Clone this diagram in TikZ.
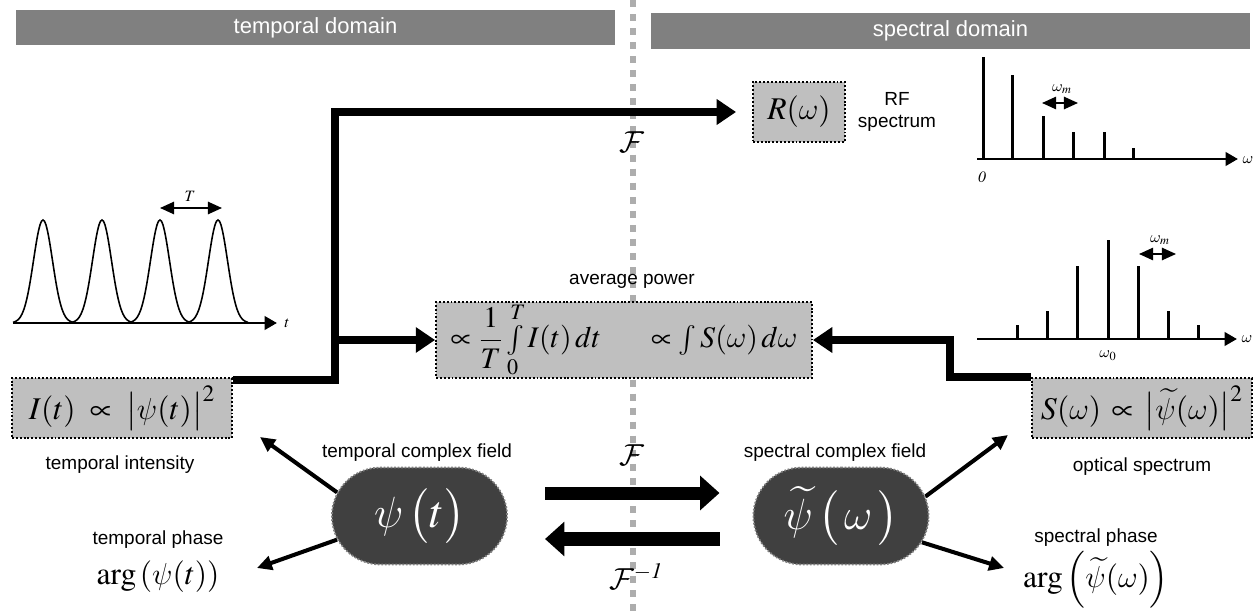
\documentclass[tikz,border=0pt]{standalone}
\usepackage{amsmath}
\usepackage{mathptmx}
\DeclareMathAlphabet{\mathcal}{OMS}{cmsy}{m}{n}
\DeclareSymbolFont{cmletters}{OML}{cmm}{m}{it}
\DeclareMathSymbol{\psi}{\mathord}{cmletters}{"20}
\DeclareMathSymbol{\omega}{\mathord}{cmletters}{"21}
\usepackage{fontspec}
\newfontfamily\arial{Liberation Sans}
\usepackage{tikz}
\usetikzlibrary{shapes, shapes.misc, arrows, arrows.meta}

\definecolor{hdrgray}{gray}{0.5}
\definecolor{boxgray}{gray}{0.75}
\definecolor{fieldgray}{gray}{0.25}
\definecolor{divgray}{gray}{0.68}

\newcommand\bigmath{\fontsize{18}{22}\selectfont}
\newcommand\avgmath{\fontsize{17}{20}\selectfont}
\newcommand\hugemath{\fontsize{26}{30}\selectfont}

\begin{document}
\begin{tikzpicture}[x=0.02cm, y=-0.02cm,
  hdr/.style={rectangle, fill=hdrgray, text=white, font=\arial\fontsize{12.5}{15}\selectfont},
  qbox/.style={rectangle, draw, fill=boxgray, line width=1.1pt, dash pattern=on 1.1pt off 1.1pt, inner sep=0pt, font=\bigmath},
  lbl/.style={font=\arial\fontsize{10.8}{13}\selectfont, align=center},
  cfield/.style={rounded rectangle, fill=fieldgray, draw=gray, line width=1pt, dash pattern=on 1pt off 1pt, text=white, minimum width=3.74cm, minimum height=1.94cm, font=\hugemath},
  flbl/.style={font=\fontsize{17}{20}\selectfont},
  plotlbl/.style={font=\fontsize{9}{11}\selectfont, inner sep=1pt},
  feed/.style={line width=4.5pt, -{Triangle[length=11pt, width=14pt]}},
  fourier/.style={line width=7.4pt, -{Triangle[length=11pt, width=19pt]}},
  ptr/.style={line width=2.3pt, -{Triangle[length=8.5pt, width=8pt]}},
  axisline/.style={line width=1.7pt, -{Triangle[length=7pt, width=7.5pt]}},
  peak/.style={line width=1.7pt},
  period/.style={line width=1pt, {Triangle[length=8pt, width=7pt]}-{Triangle[length=8pt, width=7pt]}}]
\useasboundingbox (0,0) rectangle (1257,611);

% domain divider
\draw[divgray, line width=3.6pt, dash pattern=on 4pt off 4pt] (633,0) -- (633,611);

\node[hdr, minimum width=12cm, minimum height=0.72cm] (tdom) at (315.5,27.5) {temporal domain};
\node[hdr, minimum width=12cm, minimum height=0.72cm] (sdom) at (950.5,31) {spectral domain};

% measured quantities
\node[qbox, minimum width=1.84cm, minimum height=1.2cm] (R) at (799,112) {$R(\omega)$};
\node[lbl] (Rlbl) at (897,112) {RF\\spectrum};
\node[qbox, minimum width=4.4cm, minimum height=1.2cm] (I) at (122,408) {$I(t)\;\propto\;\bigl|\psi(t)\bigr|^2$};
\node[lbl] (Ilbl) at (120,465) {temporal intensity};
\node[qbox, minimum width=4.4cm, minimum height=1.2cm] (S) at (1142,408) {$S(\omega)\,\propto\,\bigl|\widetilde{\psi}(\omega)\bigr|^2$};
\node[lbl] (Slbl) at (1142,467) {optical spectrum};
\node[qbox, minimum width=7.52cm, minimum height=1.52cm, font=\avgmath] (P) at (624,340) {$\propto\dfrac{1}{T}\int\limits_0^T I(t)\,dt\quad\;\;\propto\int S(\omega)\,d\omega$};
\node[lbl] (Plbl) at (632,281) {average power};

% complex fields
\node[cfield] (psiT) at (419.5,516) {$\psi\,\bigl(t\bigr)$};
\node[cfield] (psiW) at (841,516) {$\widetilde{\psi}\,\bigl(\,\omega\,\bigr)$};
\node[lbl] (psiTlbl) at (417,453) {temporal complex field};
\node[lbl] (psiWlbl) at (835,453) {spectral complex field};
\node[lbl] (phT) at (158,540) {temporal phase};
\node[font=\bigmath] (argT) at (158,577) {$\arg\left(\psi(t)\right)$};
\node[lbl] (phW) at (1096,538) {spectral phase};
\node[font=\bigmath] (argW) at (1096,580) {$\arg\left(\widetilde{\psi}(\omega)\right)$};

\node[flbl] (F1) at (632,142) {$\mathcal{F}$};
\node[flbl] (F2) at (632,455) {$\mathcal{F}$};
\node[flbl] (F3) at (636,577) {$\mathcal{F}^{\mathit{-1}}$};

% connectors
\coordinate (split) at (335,340);
\coordinate (knee) at (950,340);
\draw[feed, shorten >=0.32cm] ([yshift=-0.06cm]I.north east) -| (split) |- (R.west);
\draw[feed] (split) -- (P.west);
\draw[feed] (S.north west) -| (knee) -- (P.east);
\draw[fourier, shorten <=0.74cm, shorten >=0.66cm] ([yshift=0.46cm]psiT.east) -- ([yshift=0.46cm]psiW.west);
\draw[fourier, shorten <=0.66cm, shorten >=0.74cm] ([yshift=-0.46cm]psiW.west) -- ([yshift=-0.46cm]psiT.east);

\coordinate (tipI) at (260,437);
\coordinate (tipA) at (257,568);
\coordinate (tipS) at (1008,435);
\coordinate (tipB) at (1004,568);
\draw[ptr] (psiT.164) -- (tipI);
\draw[ptr] (psiT.196) -- (tipA);
\draw[ptr] (psiW.13) -- (tipS);
\draw[ptr] (psiW.342) -- (tipB);

% pulse train
\draw[axisline] (13,323) -- (277,323);
\node[plotlbl] (tax) at (287,323) {$t$};
\foreach \pk in {43,102,160,218}
  \draw[line width=0.9pt] plot[domain=-30:30, samples=41, smooth] ({\pk+\x},{323-103*exp(-0.5*(\x/9.5)^2)});
\draw[period] (160,208) -- (222,208);
\node[plotlbl] (Tlbl) at (190,196) {$T$};

% RF comb
\draw[axisline] (977,159) -- (1238,159);
\node[plotlbl] (wR) at (1248,160) {$\omega$};
\node[plotlbl] (zero) at (982,177) {$\mathit{0}$};
\foreach \xx/\h in {983/57, 1012/75, 1043/116, 1073/132, 1104/132, 1133/148}
  \draw[peak] (\xx,159) -- (\xx,\h);
\draw[period] (1042,103) -- (1078,103);
\node[plotlbl] (wmR) at (1062,89) {$\omega_m$};

% optical comb
\draw[axisline] (977,339) -- (1237,339);
\node[plotlbl] (wS) at (1247,339) {$\omega$};
\foreach \xx/\h in {1017/325, 1047/311, 1077/266, 1108/240, 1138/266, 1168/311, 1198/325}
  \draw[peak] (\xx,339) -- (\xx,\h);
\draw[period] (1139,254) -- (1176,254);
\node[plotlbl] (wmS) at (1160,240) {$\omega_m$};
\node[plotlbl] (w0) at (1108,356) {$\omega_0$};
\end{tikzpicture}
\end{document}
